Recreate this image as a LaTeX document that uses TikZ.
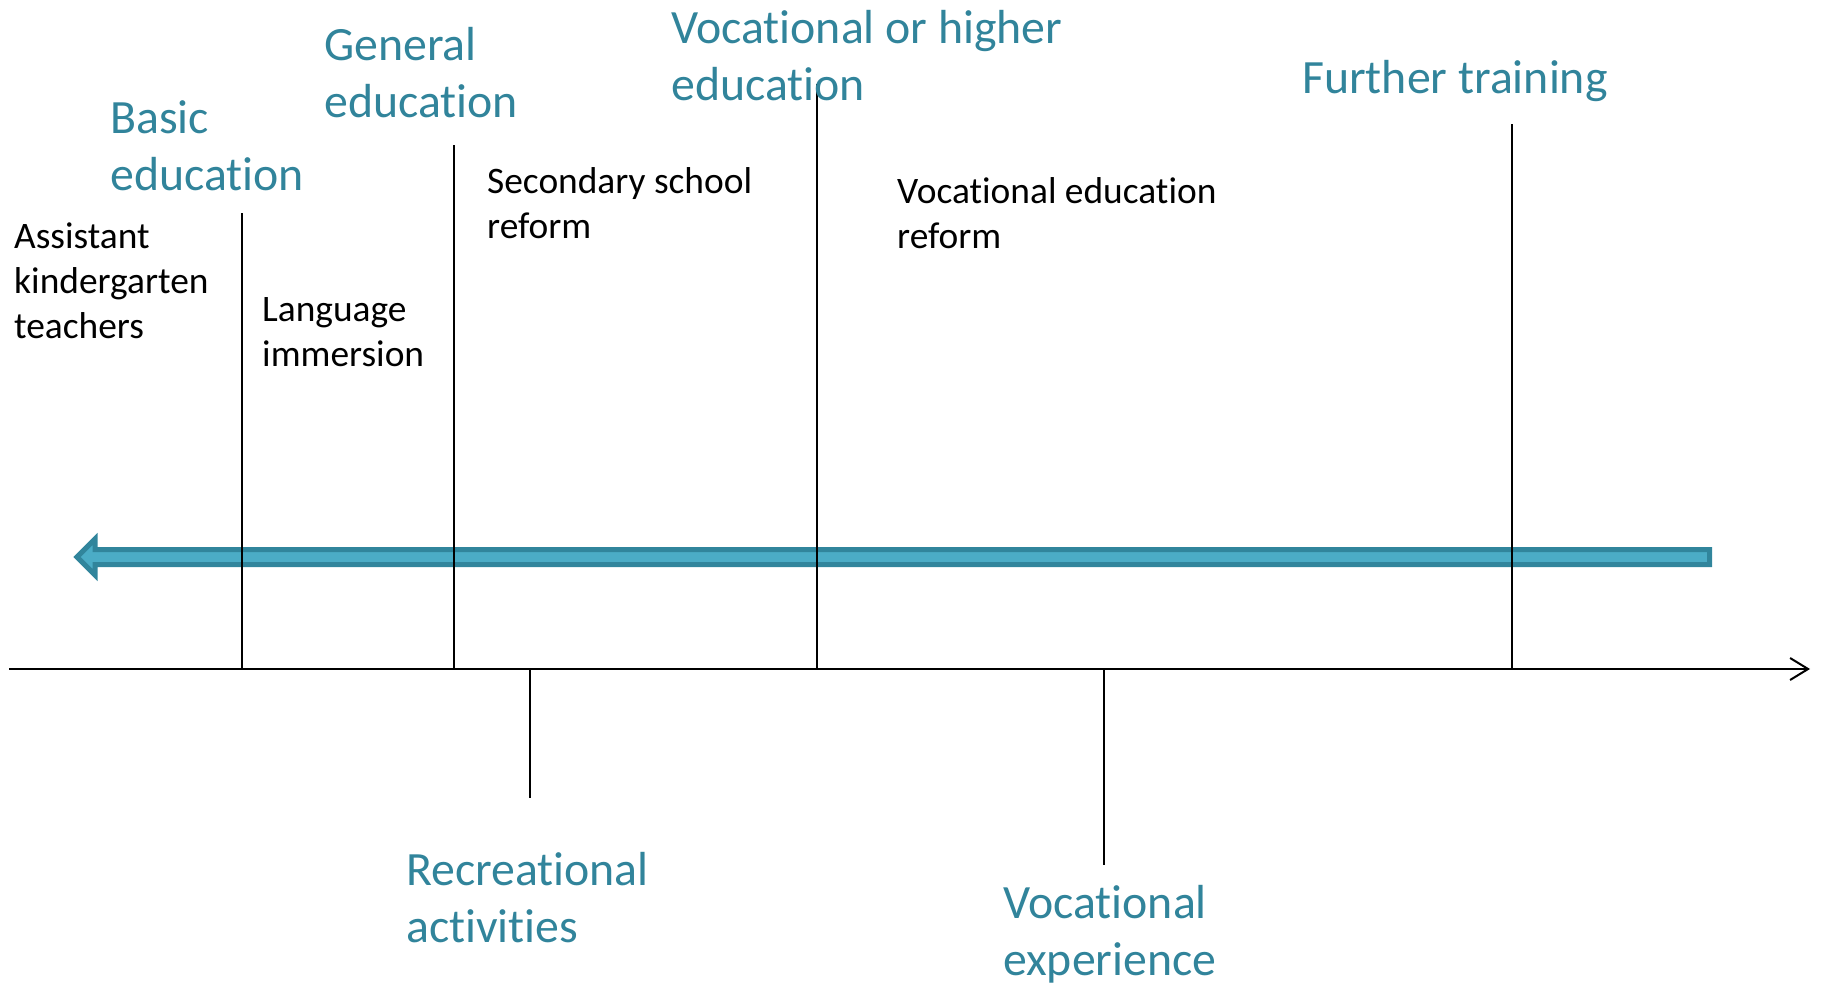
\documentclass[tikz,border=0pt]{standalone}
\usepackage{fontspec}
\setmainfont{Carlito}[Ligatures=NoCommon]
\usetikzlibrary{arrows.meta}
\definecolor{tealtxt}{HTML}{31849B}
\definecolor{arrowfill}{HTML}{4BACC6}
\definecolor{arrowdraw}{HTML}{31859C}
\begin{document}
\begin{tikzpicture}[x=1pt,y=-1pt,
  head/.style={anchor=base west,inner sep=0pt,align=left,text=tealtxt,font=\fontsize{47.8}{57}\selectfont},
  note/.style={anchor=base west,inner sep=0pt,align=left,text=black,font=\fontsize{37.4}{45}\selectfont},
  tick/.style={draw=black,line width=1.6pt},
  axis/.style={draw=black,line width=2pt,-{Straight Barb[length=18pt,width=22pt,line width=2pt]}}]
\useasboundingbox (0,0) rectangle (1824,986);
% big backward arrow
\draw[fill=arrowfill,draw=arrowdraw,line width=5pt,line join=miter]
  (1709.5,549.5) -- (95,549.5) -- (95,539) -- (77,557) -- (95,575) -- (95,564.5) -- (1709.5,564.5) -- cycle;
% axis
\coordinate (a0) at (9,669);
\coordinate (a1) at (1810,669);
\draw[axis] (a0) -- (a1);
% upper ticks
\coordinate (t1) at (242,213); \coordinate (b1) at (242,669);
\coordinate (t2) at (454,145); \coordinate (b2) at (454,669);
\coordinate (t3) at (817,84);  \coordinate (b3) at (817,669);
\coordinate (t4) at (1512,124); \coordinate (b4) at (1512,669);
% lower ticks
\coordinate (t5) at (530,669); \coordinate (b5) at (530,798);
\coordinate (t6) at (1104,669); \coordinate (b6) at (1104,865);
\draw[tick] (t1) -- (b1);
\draw[tick] (t2) -- (b2);
\draw[tick] (t3) -- (b3);
\draw[tick] (t4) -- (b4);
\draw[tick] (t5) -- (b5);
\draw[tick] (t6) -- (b6);
% headings (anchor = baseline of last line)
\node[head] (basic) at (110,190) {Basic\\education};
\node[head] (general) at (324,117) {General\\education};
\node[head] (vochigh) at (671,100) {Vocational or higher\\education};
\node[head] (further) at (1302,93) {Further training};
\node[head] (recre) at (406,942) {Recreational\\activities};
\node[head] (vocexp) at (1003,975) {Vocational\\experience};
% notes
\node[note] (assist) at (14,338) {Assistant\\kindergarten\\teachers};
\node[note] (lang) at (262,366) {Language\\immersion};
\node[note] (second) at (487,238) {Secondary school\\reform};
\node[note] (vocref) at (897,248) {Vocational education\\reform};
\end{tikzpicture}
\end{document}
